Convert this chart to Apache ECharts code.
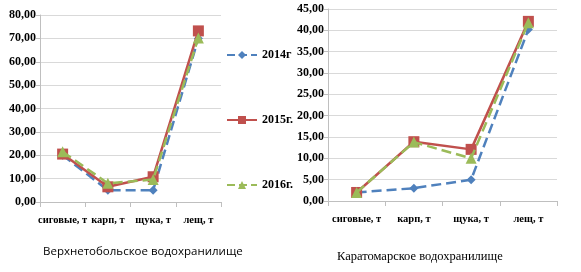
<!DOCTYPE html>
<html>
<head>
<meta charset="utf-8">
<script src="https://cdn.jsdelivr.net/npm/echarts@6/dist/echarts.min.js"></script>
<style>
  html, body { margin: 0; padding: 0; background: #fff; }
  #chart { width: 581px; height: 272px; }
</style>
</head>
<body>
<div id="chart"></div>
<script>
  const categories = ['сиговые, т', 'карп, т', 'щука, т', 'лещ, т']
  const years = ['2014г', '2015г.', '2016г.']

  // Верхнетобольское водохранилище
  const verkh2014 = [20, 5, 5, 70]
  const verkh2015 = [20.5, 6.5, 10.8, 73.2]
  const verkh2016 = [21.5, 8, 9.6, 70.2]

  // Каратомарское водохранилище
  const karat2014 = [2, 3, 5, 40.2]
  const karat2015 = [2, 13.9, 12.1, 42.1]
  const karat2016 = [2, 13.8, 10, 41.8]

  const colors = ['#4f81bd', '#c0504d', '#9bbb59']
  const symbols = ['diamond', 'rect', 'triangle']
  const sizes = [9, 11, 11]
  const dashes = ['dashed', 'solid', 'dashed']

  const fmt = v => v.toFixed(2).replace('.', ',')
  const serif = '"Liberation Serif", "Times New Roman", serif'

  const chart = echarts.init(document.getElementById('chart'))

  function xAxis(idx) {
    return {
      type: 'category', gridIndex: idx, data: categories, boundaryGap: true,
      axisLine: { lineStyle: { color: '#bfbfbf' } },
      axisTick: { show: true, length: 5, lineStyle: { color: '#bfbfbf' } },
      axisLabel: { color: '#000', fontFamily: serif, fontSize: 10.5, fontWeight: 'bold', margin: 13, interval: 0, hideOverlap: false }
    }
  }
  function yAxis(idx, max, interval) {
    return {
      type: 'value', gridIndex: idx, min: 0, max: max, interval: interval,
      axisLine: { show: true, lineStyle: { color: '#bfbfbf' } },
      axisTick: { show: true, length: 4, lineStyle: { color: '#bfbfbf' } },
      splitLine: { lineStyle: { color: '#d9d9d9', width: 1 } },
      axisLabel: { color: '#000', fontFamily: serif, fontSize: 12, fontWeight: 'bold', margin: 4, formatter: fmt }
    }
  }
  function line(i, data, idx) {
    return {
      name: years[i], type: 'line', xAxisIndex: idx, yAxisIndex: idx, data: data,
      symbol: symbols[i], symbolSize: sizes[i], z: 2 + i % 3,
      lineStyle: { color: colors[i], width: 2.5, type: dashes[i] },
      itemStyle: { color: colors[i] }
    }
  }

  const option = {
    animation: false,
    title: [
      { text: 'Верхнетобольское водохранилище', left: 38, top: 241,
        textStyle: { fontFamily: '"Open Sans", "Liberation Sans", sans-serif', fontSize: 11.5, fontWeight: 'normal', color: '#000' } },
      { text: 'Каратомарское водохранилище', left: 332, top: 245,
        textStyle: { fontFamily: serif, fontSize: 12.5, fontWeight: 'normal', color: '#000' } }
    ],
    legend: {
      data: years, orient: 'vertical', left: 221, top: 44, itemGap: 53,
      itemWidth: 30, itemHeight: 10,
      textStyle: { fontFamily: serif, fontSize: 12, fontWeight: 'bold', color: '#000' }
    },
    grid: [
      { left: 40, right: 360, top: 15, bottom: 70 },
      { left: 328, right: 24, top: 9, bottom: 71 }
    ],
    xAxis: [xAxis(0), xAxis(1)],
    yAxis: [yAxis(0, 80, 10), yAxis(1, 45, 5)],
    series: [
      line(0, verkh2014, 0), line(1, verkh2015, 0), line(2, verkh2016, 0),
      line(0, karat2014, 1), line(1, karat2015, 1), line(2, karat2016, 1)
    ]
  }
  chart.setOption(option)
  window.addEventListener('resize', function () {
    chart.resize()
  })
</script>
</body>
</html>
